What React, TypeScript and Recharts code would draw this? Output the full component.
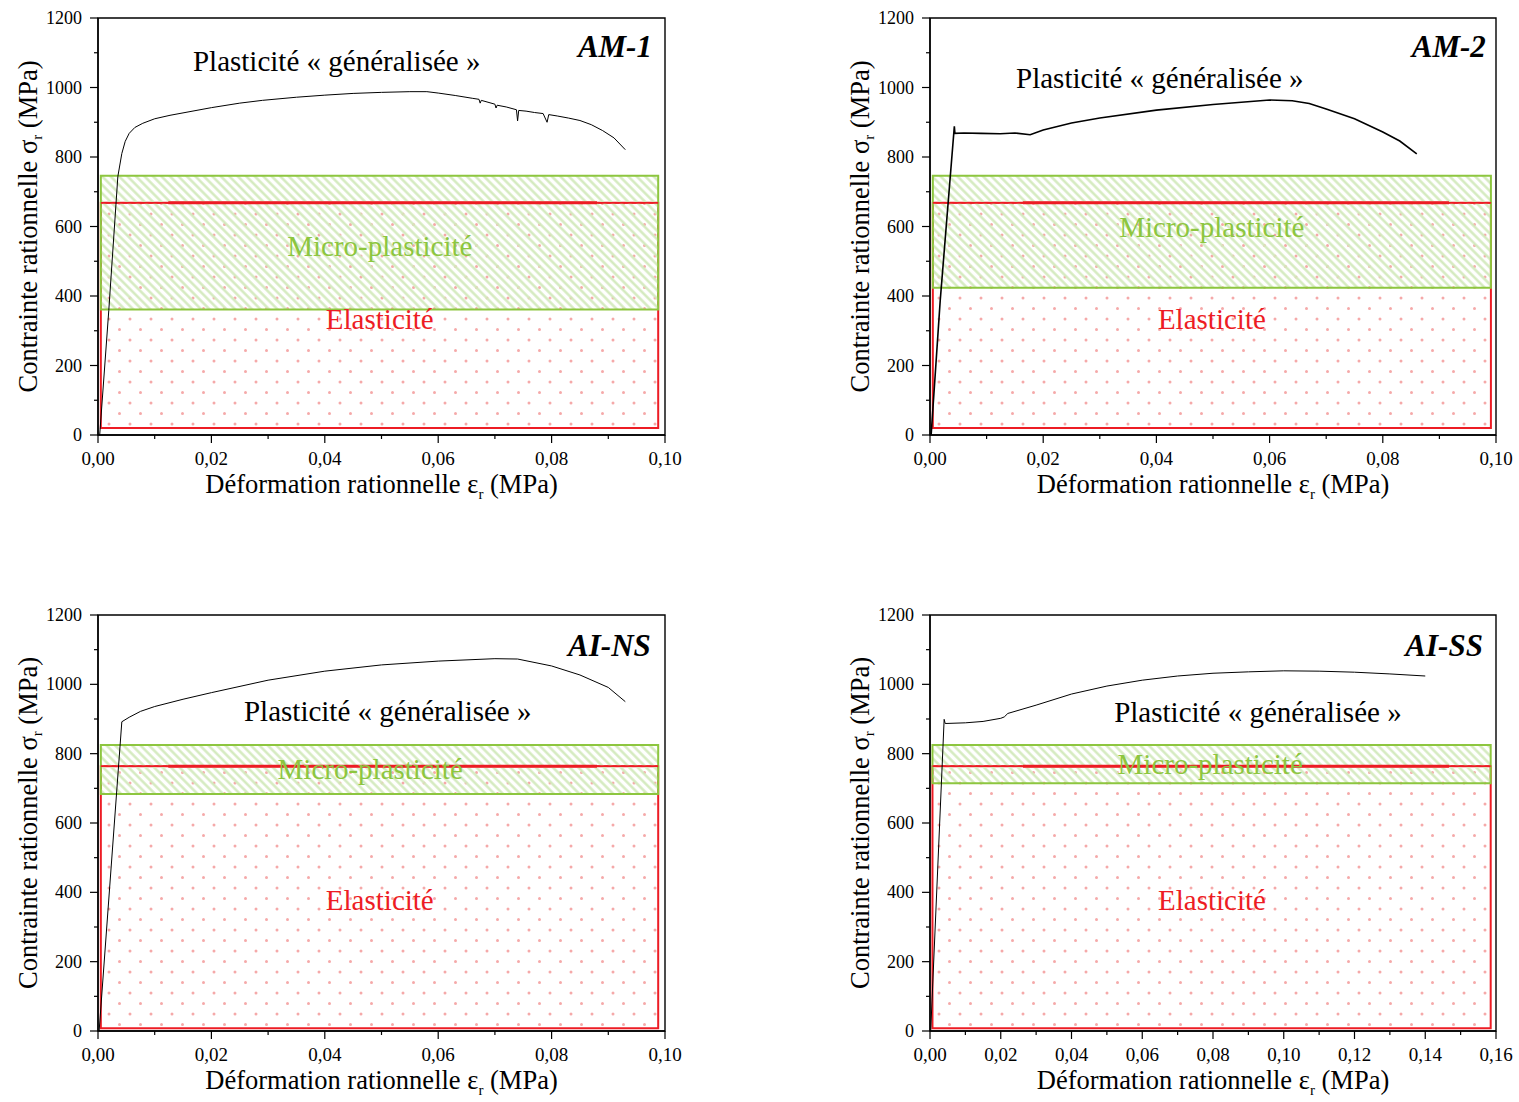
import React from 'react';
import { LineChart, Line, XAxis, YAxis, ReferenceArea, ReferenceLine, ReferenceDot, Label } from 'recharts';

const FONT = "'Liberation Serif', 'Times New Roman', Times, serif";
const RED = '#ED1C24';
const GREEN = '#8DC63F';

// axis ticks (major + minor)
const yTicks = [0, 200, 400, 600, 800, 1000, 1200];
const yMinor = [100, 300, 500, 700, 900, 1100];
const xTicks10 = [0, 0.02, 0.04, 0.06, 0.08, 0.1];
const xMinor10 = [0.01, 0.03, 0.05, 0.07, 0.09];
const xTicks16 = [0, 0.02, 0.04, 0.06, 0.08, 0.1, 0.12, 0.14, 0.16];
const xMinor16 = [0.01, 0.03, 0.05, 0.07, 0.09, 0.11, 0.13, 0.15];

// AM-1
const am1Strain = [0.0003, 0.0019, 0.0035, 0.0042, 0.0048, 0.0055, 0.0065, 0.0079, 0.01, 0.0127, 0.02, 0.025, 0.029, 0.035, 0.04, 0.045, 0.05, 0.055, 0.058, 0.06, 0.063, 0.066, 0.0672, 0.0674, 0.0676, 0.07, 0.0702, 0.0704, 0.072, 0.0738, 0.074, 0.0742, 0.0755, 0.077, 0.0785, 0.0792, 0.0795, 0.081, 0.083, 0.085, 0.087, 0.089, 0.091, 0.093];
const am1Stress = [0, 358, 744, 810, 845, 868, 885, 897, 910, 920, 942, 955, 963, 972, 978, 983, 986, 988, 988, 984, 977, 969, 966, 955, 963, 952, 941, 949, 944, 936, 904, 934, 932, 928, 925, 900, 922, 918, 912, 905, 893, 876, 855, 821];

// AM-2
const am2Strain = [0.0002, 0.0018, 0.0043, 0.0044, 0.006, 0.009, 0.0124, 0.015, 0.0177, 0.02, 0.025, 0.03, 0.04, 0.05, 0.06, 0.064, 0.067, 0.07, 0.075, 0.08, 0.083, 0.086];
const am2Stress = [0, 386, 888, 868, 869, 868, 867, 869, 864, 878, 898, 912, 935, 951, 964, 962, 954, 938, 910, 872, 846, 809];

// AI-NS
const aiNsStrain = [0.0002, 0.0042, 0.0055, 0.0075, 0.01, 0.015, 0.02, 0.03, 0.04, 0.05, 0.06, 0.07, 0.074, 0.08, 0.085, 0.09, 0.093];
const aiNsStress = [0, 892, 905, 922, 936, 957, 976, 1012, 1038, 1056, 1067, 1074, 1073, 1053, 1027, 991, 950];

// AI-SS
const aiSsStrain = [0.0002, 0.004, 0.0043, 0.01, 0.015, 0.02, 0.021, 0.022, 0.03, 0.04, 0.05, 0.06, 0.07, 0.08, 0.09, 0.1, 0.11, 0.12, 0.13, 0.14];
const aiSsStress = [0, 899, 887, 889, 893, 902, 906, 916, 940, 972, 995, 1012, 1024, 1032, 1036, 1039, 1038, 1035, 1030, 1024];

// zone limits (MPa), per panel: AM-1, AM-2, AI-NS, AI-SS
const elasticBottom = [20, 20, 8, 8];
const elasticTop = [668, 668, 764, 764];
const microBottom = [361, 424, 684, 715];
const microTop = [746, 746, 825, 825];

const toPoints = (xs: number[], ys: number[]) => xs.map((x, i) => ({ x, y: ys[i] }));
const merge = (a: number[], b: number[]) => [...a, ...b].sort((p, q) => p - q);
const isMajor = (v: number, majors: number[]) => majors.some((m) => Math.abs(m - v) < 1e-9);

const fmtX = (v: number) => v.toFixed(2).replace('.', ',');

const panels = [
  {
    id: 'am1', name: 'AM-1', data: toPoints(am1Strain, am1Stress), xMax: 0.1, xTicks: xTicks10, xMinor: xMinor10,
    box: { left: 0, top: 0, width: 700, height: 520 }, plot: { l: 98, r: 665, t: 18, b: 435 },
    zoneX: [0.0005, 0.0988], thick: [0.0124, 0.088], lineW: 1,
    notes: { plastic: [0.0421, 1076], title: [0.0977, 1119], micro: [0.0497, 545], elastic: [0.0497, 335] },
  },
  {
    id: 'am2', name: 'AM-2', data: toPoints(am2Strain, am2Stress), xMax: 0.1, xTicks: xTicks10, xMinor: xMinor10,
    box: { left: 830, top: 0, width: 689, height: 520 }, plot: { l: 930, r: 1496, t: 18, b: 435 },
    zoneX: [0.0005, 0.0991], thick: [0.0164, 0.0917], lineW: 1.6,
    notes: { plastic: [0.0406, 1027], title: [0.0982, 1119], micro: [0.0498, 600], elastic: [0.0498, 335] },
  },
  {
    id: 'ains', name: 'AI-NS', data: toPoints(aiNsStrain, aiNsStress), xMax: 0.1, xTicks: xTicks10, xMinor: xMinor10,
    box: { left: 0, top: 590, width: 700, height: 512 }, plot: { l: 98, r: 665, t: 615, b: 1031 },
    zoneX: [0.0005, 0.0988], thick: [0.0124, 0.088], lineW: 1,
    notes: { plastic: [0.0511, 922], title: [0.0975, 1113], micro: [0.048, 755], elastic: [0.0497, 379] },
  },
  {
    id: 'aiss', name: 'AI-SS', data: toPoints(aiSsStrain, aiSsStress), xMax: 0.16, xTicks: xTicks16, xMinor: xMinor16,
    box: { left: 830, top: 590, width: 689, height: 512 }, plot: { l: 930, r: 1496, t: 615, b: 1031 },
    zoneX: [0.0007, 0.1585], thick: [0.0263, 0.1467], lineW: 1,
    notes: { plastic: [0.0927, 920], title: [0.1563, 1113], micro: [0.0792, 769], elastic: [0.0797, 379] },
  },
];

const textShape = (text: string, color: string, size: number, anchor: string, bold = false) => (p: any) => (
  <text
    x={p.cx}
    y={p.cy}
    textAnchor={anchor}
    dominantBaseline="central"
    fill={color}
    fontSize={size}
    style={{ fontFamily: FONT, fontWeight: bold ? 'bold' : 'normal', fontStyle: bold ? 'italic' : 'normal' }}
  >
    {text}
  </text>
);

const XTick = (majors: number[]) => (p: any) => {
  const v = p.payload.value;
  const major = isMajor(v, majors);
  return (
    <g>
      <line x1={p.x} x2={p.x} y1={p.y} y2={p.y + (major ? 8 : 4)} stroke="#000" strokeWidth={1.2} />
      {major && (
        <text x={p.x} y={p.y + 30} textAnchor="middle" fontSize={19} fill="#000" style={{ fontFamily: FONT }}>
          {fmtX(v)}
        </text>
      )}
    </g>
  );
};

const YTick = (majors: number[]) => (p: any) => {
  const v = p.payload.value;
  const major = isMajor(v, majors);
  return (
    <g>
      <line x1={p.x - (major ? 8 : 4)} x2={p.x} y1={p.y} y2={p.y} stroke="#000" strokeWidth={1.2} />
      {major && (
        <text x={p.x - 16} y={p.y} textAnchor="end" dominantBaseline="central" fontSize={18} fill="#000" style={{ fontFamily: FONT }}>
          {v}
        </text>
      )}
    </g>
  );
};

const yTitle = (props: any) => {
  const vb = props.viewBox;
  const cx = vb.x + vb.width - 70;
  const cy = vb.y + vb.height / 2;
  return (
    <text x={cx} y={cy} transform={`rotate(-90, ${cx}, ${cy})`} textAnchor="middle" dominantBaseline="central" fontSize={26.5} fill="#000" style={{ fontFamily: FONT }}>
      Contrainte rationnelle σ<tspan dy={9} fontSize={15}>r</tspan><tspan dy={-9}> (MPa)</tspan>
    </text>
  );
};

const xTitle = (props: any) => {
  const vb = props.viewBox;
  const cx = vb.x + vb.width / 2;
  const cy = vb.y + 49;
  return (
    <text x={cx} y={cy} textAnchor="middle" dominantBaseline="central" fontSize={26.5} fill="#000" style={{ fontFamily: FONT }}>
      Déformation rationnelle ε<tspan dy={10} fontSize={15}>r</tspan><tspan dy={-10}> (MPa)</tspan>
    </text>
  );
};

function Panel({ cfg, i }: { cfg: any; i: number }) {
  const { box, plot, xMax } = cfg;
  const margin = {
    left: plot.l - box.left - 1,
    top: plot.t - box.top,
    right: box.left + box.width - plot.r,
    bottom: box.top + box.height - plot.b - 1,
  };
  const n = cfg.notes;
  return (
    <div style={{ position: 'absolute', left: box.left, top: box.top, width: box.width, height: box.height }}>
      <LineChart width={box.width} height={box.height} margin={margin} style={{ fontFamily: FONT }}>
        <defs>
          <pattern id={`dots-${cfg.id}`} width="21" height="21" patternUnits="userSpaceOnUse">
            <circle cx="4" cy="4" r="1.5" fill="#F5A9A9" />
            <circle cx="14.5" cy="14.5" r="1.5" fill="#F5A9A9" />
          </pattern>
          <pattern id={`hatch-${cfg.id}`} width="6" height="6" patternUnits="userSpaceOnUse" patternTransform="rotate(-45)">
            <line x1="1.5" y1="0" x2="1.5" y2="6" stroke="#D2E9BC" strokeWidth="2.4" />
          </pattern>
        </defs>
        <XAxis
          type="number"
          dataKey="x"
          domain={[0, xMax]}
          ticks={merge(cfg.xTicks, cfg.xMinor)}
          interval={0}
          height={1}
          tickSize={0}
          tickMargin={0}
          tick={XTick(cfg.xTicks)}
          tickLine={false}
          axisLine={{ stroke: '#000', strokeWidth: 1.4 }}
          allowDataOverflow
        >
          <Label content={xTitle} />
        </XAxis>
        <YAxis
          type="number"
          domain={[0, 1200]}
          ticks={merge(yTicks, yMinor)}
          interval={0}
          width={1}
          tickSize={0}
          tickMargin={0}
          tick={YTick(yTicks)}
          tickLine={false}
          axisLine={{ stroke: '#000', strokeWidth: 1.4 }}
          allowDataOverflow
        >
          <Label content={yTitle} />
        </YAxis>
        <ReferenceArea
          x1={cfg.zoneX[0]}
          x2={cfg.zoneX[1]}
          y1={elasticBottom[i]}
          y2={elasticTop[i]}
          fill={`url(#dots-${cfg.id})`}
          fillOpacity={1}
          stroke={RED}
          strokeWidth={2}
        />
        <ReferenceArea
          x1={cfg.zoneX[0]}
          x2={cfg.zoneX[1]}
          y1={microBottom[i]}
          y2={microTop[i]}
          fill={`url(#hatch-${cfg.id})`}
          fillOpacity={1}
          stroke={GREEN}
          strokeWidth={2}
        />
        <ReferenceLine
          segment={[{ x: cfg.zoneX[0], y: elasticTop[i] }, { x: cfg.zoneX[1], y: elasticTop[i] }]}
          stroke={RED}
          strokeWidth={1.6}
        />
        <ReferenceLine
          segment={[{ x: cfg.thick[0], y: elasticTop[i] }, { x: cfg.thick[1], y: elasticTop[i] }]}
          stroke={RED}
          strokeWidth={3}
        />
        <ReferenceArea x1={0} x2={xMax} y1={0} y2={1200} fill="none" stroke="#000" strokeWidth={1.4} />
        <Line
          data={cfg.data}
          dataKey="y"
          type="linear"
          stroke="#000"
          strokeWidth={cfg.lineW}
          dot={false}
          isAnimationActive={false}
        />
        <ReferenceDot x={n.plastic[0]} y={n.plastic[1]} r={0} shape={textShape('Plasticité « généralisée »', '#000', 29, 'middle')} />
        <ReferenceDot x={n.title[0]} y={n.title[1]} r={0} shape={textShape(cfg.name, '#000', 31, 'end', true)} />
        <ReferenceDot x={n.micro[0]} y={n.micro[1]} r={0} shape={textShape('Micro-plasticité', GREEN, 29, 'middle')} />
        <ReferenceDot x={n.elastic[0]} y={n.elastic[1]} r={0} shape={textShape('Elasticité', RED, 29, 'middle')} />
      </LineChart>
    </div>
  );
}

export default function App() {
  return (
    <div style={{ position: 'absolute', left: 0, top: 0, width: 1519, height: 1102, background: '#fff' }}>
      {panels.map((p, i) => (
        <Panel key={p.id} cfg={p} i={i} />
      ))}
    </div>
  );
}
